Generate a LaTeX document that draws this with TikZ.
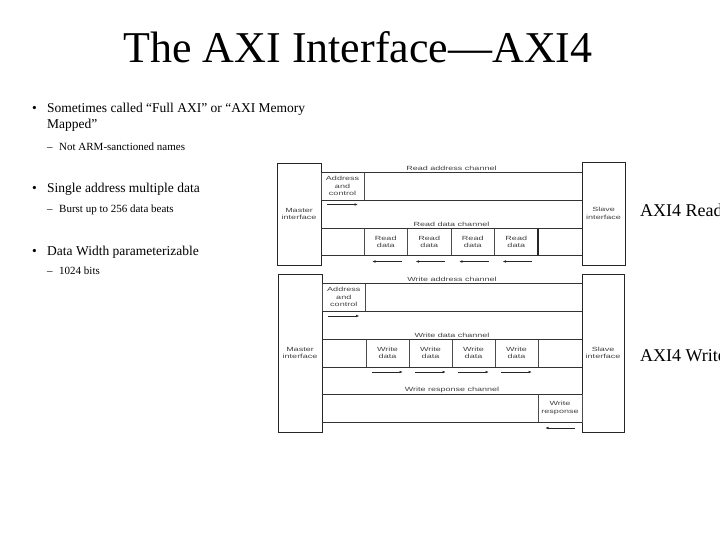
\documentclass[tikz,border=0pt]{standalone}
\usepackage{fontspec}
\setmainfont{Liberation Serif}
\newfontfamily\diagfont[FakeStretch=1.5]{Liberation Sans}
\usetikzlibrary{positioning, arrows.meta, calc}
\tikzset{
    diag/.style={font=\diagfont\fontsize{6}{7.6}\selectfont, text=black!75, align=center},
    iface/.style={diag, draw=black!85, line width=0.8pt, minimum width=44pt, inner sep=0pt, outer sep=0pt},
    beat/.style={diag, draw=black!70, line width=0.7pt, minimum width=43.5pt, minimum height=28pt, inner sep=0pt, outer sep=0pt},
    chan/.style={draw=black!80, line width=0.7pt},
    chanlabel/.style={diag, anchor=south, inner sep=1.3pt},
    sig/.style={-{Latex[length=3.5pt, width=2.6pt]}, line width=0.7pt, black!85},
    bullet/.style={anchor=base west, inner sep=0pt, font=\fontsize{13.5}{16}\selectfont},
    subbullet/.style={anchor=base west, inner sep=0pt, font=\fontsize{11}{13}\selectfont},
    sidelabel/.style={anchor=base west, inner sep=0pt, font=\fontsize{18}{20}\selectfont}
}
\begin{document}
\begin{tikzpicture}[x=1pt, y=-1pt]
    \useasboundingbox (0,0) rectangle (720,540);

    % Title
    \node [anchor=base, inner sep=0pt, font=\fontsize{44}{50}\selectfont] (title) at (358,63) {The AXI Interface—AXI4};

    % Bullet list
    \node [bullet] (dot1) at (32,113) {•};
    \node [bullet] (txt1) at (47,113) {Sometimes called “Full AXI” or “AXI Memory};
    \node [bullet] (txt1b) at (47,129) {Mapped”};
    \node [subbullet] (dash1) at (47,151) {–};
    \node [subbullet] (sub1) at (59,151) {Not ARM-sanctioned names};
    \node [bullet] (dot2) at (32,193) {•};
    \node [bullet] (txt2) at (47,193) {Single address multiple data};
    \node [subbullet] (dash2) at (47,213) {–};
    \node [subbullet] (sub2) at (59,213) {Burst up to 256 data beats};
    \node [bullet] (dot3) at (32,255) {•};
    \node [bullet] (txt3) at (47,255) {Data Width parameterizable};
    \node [subbullet] (dash3) at (47,274) {–};
    \node [subbullet] (sub3) at (59,274) {1024 bits};

    % Read diagram
    \node [iface, minimum height=102pt] (mr) at (299,214) {Master\\interface};
    \node [iface, minimum height=103pt, minimum width=43pt] (sr) at (603.5,213.5) {Slave\\interface};
    \node [beat, minimum height=27.5pt, minimum width=43pt, anchor=north west] (rac) at (321,172.5) {Address\\and\\control};
    \node [beat, minimum height=27.5pt, anchor=north west] (rd1) at (364,228) {Read\\data};
    \node [beat, minimum height=27.5pt, right=0pt of rd1] (rd2) {Read\\data};
    \node [beat, minimum height=27.5pt, right=0pt of rd2] (rd3) {Read\\data};
    \node [beat, minimum height=27.5pt, right=0pt of rd3] (rd4) {Read\\data};
    \draw [line width=1.5pt, black!85] (rd4.north east) -- (rd4.south east);

    \draw [chan] (rac.north west) -- (rac.north west -| sr.west);
    \draw [chan] (rac.south west) -- (rac.south west -| sr.west);
    \draw [chan] (rd1.north west -| mr.east) -- (rd1.north west -| sr.west);
    \draw [chan] (rd1.south west -| mr.east) -- (rd1.south west -| sr.west);
    \node [chanlabel] (lra) at ($(rac.north west)!0.5!(rac.north west -| sr.west)$) {Read address channel};
    \node [chanlabel] (lrd) at ($(rd1.north west -| mr.east)!0.5!(rd1.north west -| sr.west)$) {Read data channel};

    \draw [sig] ($(rac.south west)+(6,4.5)$) -- ($(rac.south east)+(-6,4.5)$);
    \foreach \b in {rd1, rd2, rd3, rd4}
        \draw [sig] ($(\b.south east)+(-6,6)$) -- ($(\b.south west)+(8,6)$);

    % Write diagram
    \node [iface, minimum height=158pt] (mw) at (300,353) {Master\\interface};
    \node [iface, minimum height=158pt, minimum width=42pt] (sw) at (603,353) {Slave\\interface};
    \node [beat, minimum width=43.5pt, anchor=north west] (wac) at (322,283) {Address\\and\\control};
    \node [beat, minimum width=43pt, anchor=north west] (wd1) at (366,339) {Write\\data};
    \node [beat, minimum width=43pt, right=0pt of wd1] (wd2) {Write\\data};
    \node [beat, minimum width=43pt, right=0pt of wd2] (wd3) {Write\\data};
    \node [beat, minimum width=43pt, right=0pt of wd3] (wd4) {Write\\data};
    \node [beat, minimum width=44pt, anchor=north west] (wr) at (538,394) {Write\\response};

    \draw [chan] (wac.north west) -- (wac.north west -| sw.west);
    \draw [chan] (wac.south west) -- (wac.south west -| sw.west);
    \draw [chan] (wd1.north west -| mw.east) -- (wd1.north west -| sw.west);
    \draw [chan] (wd1.south west -| mw.east) -- (wd1.south west -| sw.west);
    \draw [chan] (wr.north west -| mw.east) -- (wr.north east);
    \draw [chan] (wr.south west -| mw.east) -- (wr.south east);
    \node [chanlabel] (lwa) at ($(wac.north west)!0.5!(wac.north west -| sw.west)$) {Write address channel};
    \node [chanlabel] (lwd) at ($(wd1.north west -| mw.east)!0.5!(wd1.north west -| sw.west)$) {Write data channel};
    \node [chanlabel] (lwr) at ($(wr.north west -| mw.east)!0.5!(wr.north east)$) {Write response channel};

    \draw [sig] ($(wac.south west)+(6,5)$) -- ($(wac.south east)+(-6,5)$);
    \foreach \b in {wd1, wd2, wd3, wd4}
        \draw [sig] ($(\b.south west)+(6,5)$) -- ($(\b.south east)+(-6,5)$);
    \draw [sig] ($(wr.south east)+(-7,6)$) -- ($(wr.south west)+(7,6)$);

    % Side labels
    \node [sidelabel] (axr) at (640,216) {AXI4 Read};
    \node [sidelabel] (axw) at (640,361) {AXI4 Write};
\end{tikzpicture}
\end{document}
